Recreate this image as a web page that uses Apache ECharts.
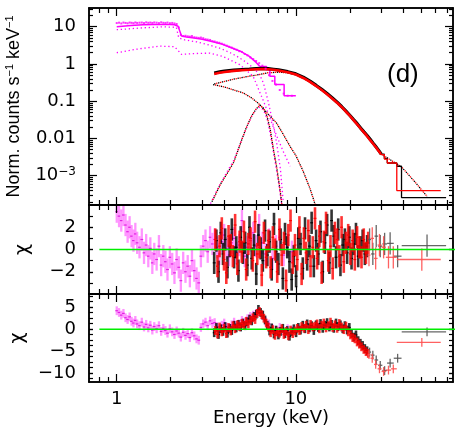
<!DOCTYPE html>
<html>
<head>
<meta charset="utf-8">
<title>Spectrum (d)</title>
<script src="https://cdn.jsdelivr.net/npm/echarts@6.0.0/dist/echarts.min.js"></script>
<style>
  html, body { margin: 0; padding: 0; background: #fff; }
  #chart { width: 463px; height: 436px; }
</style>
</head>
<body>
<div id="chart"></div>
<script>
// ---------------- ticks / labels ----------------
var X_MIN = 0.7, X_MAX = 75.4;
var xMinorTicks = [0.8, 0.9, 2, 3, 4, 5, 6, 7, 8, 9, 20, 30, 40, 50, 60, 70];
var xMajorTicks = [1, 10];
var xLabelVals = [1, 10];

var yTopMinorTicks = [2e-4, 3e-4, 4e-4, 5e-4, 6e-4, 7e-4, 8e-4, 9e-4,
    2e-3, 3e-3, 4e-3, 5e-3, 6e-3, 7e-3, 8e-3, 9e-3,
    0.02, 0.03, 0.04, 0.05, 0.06, 0.07, 0.08, 0.09,
    0.2, 0.3, 0.4, 0.5, 0.6, 0.7, 0.8, 0.9,
    2, 3, 4, 5, 6, 7, 8, 9, 20, 30];
var yTopMajorTicks = [0.001, 0.01, 0.1, 1, 10];
var yMidTicks = [-3, -2, -1, 0, 1, 2, 3];
var yMidLabels = [-2, 0, 2];
var yBotTicks = [-11.25, -10, -8.75, -7.5, -6.25, -5, -3.75, -2.5, -1.25, 0, 1.25, 2.5, 3.75, 5, 6.25, 7.5];
var yBotLabels = [-10, -5, 0, 5];

// ---------------- top panel: magenta (low energy instrument) ----------------
var pinkModelE = [1.0, 1.2, 1.4, 1.6, 1.8, 2.0, 2.1, 2.2, 2.3, 2.45, 2.7, 3.0, 3.4, 3.8, 4.3, 4.9, 5.5, 6.0, 6.29];
var pinkModelV = [10.0, 10.8, 11.2, 11.4, 11.5, 11.5, 11.3, 10.3, 5.6, 5.3, 5.0, 4.6, 4.0, 3.5, 2.8, 2.2, 1.6, 1.1, 0.86];
var pinkStepE = [6.29, 6.86, 7.16, 7.63, 8.6, 10.0];
var pinkStepV = [0.86, 0.70, 0.47, 0.28, 0.14, 0.14];

var pE = [1.00, 1.03, 1.06, 1.09, 1.12, 1.15, 1.18, 1.21, 1.24, 1.27,
    1.30, 1.34, 1.38, 1.42, 1.46, 1.50, 1.54, 1.58, 1.62, 1.67,
    1.72, 1.77, 1.82, 1.87, 1.92, 1.98, 2.04, 2.10, 2.16, 2.22,
    2.28, 2.35, 2.42, 2.49, 2.56, 2.63, 2.71, 2.79, 2.87, 2.95,
    3.04, 3.13, 3.22, 3.32, 3.42, 3.52, 3.63, 3.74, 3.86, 3.98,
    4.11, 4.24, 4.38, 4.52, 4.67, 4.83, 5.00, 5.18, 5.37, 5.57,
    5.78, 6.00, 6.24, 6.50, 6.78, 7.08, 7.40, 7.75, 8.13, 8.55,
    9.00, 9.50];
var pinkData = [12.5, 12.8, 12.2, 12.9, 12.6, 12.3, 12.9, 12.7, 12.4, 13.0,
    12.6, 12.8, 12.9, 12.5, 13.1, 12.7, 12.9, 12.6, 13.0, 12.8,
    12.5, 13.1, 12.7, 12.6, 12.9, 12.4, 12.6, 12.2, 11.8, 9.5,
    6.0, 5.6, 5.7, 5.5, 5.4, 5.6, 5.2, 5.1, 5.0, 5.1,
    4.9, 4.6, 4.5, 4.4, 4.1, 4.0, 3.8, 3.7, 3.5, 3.3,
    3.1, 2.9, 2.75, 2.55, 2.4, 2.2, 2.1, 1.85, 1.7, 1.5,
    1.35, 1.2, 1.05, 0.9, 0.75, 0.5, 0.35, 0.28, 0.2, 0.16,
    0.14, 0.14];

// model components (dotted)
var pinkAE = [1.0, 1.4, 1.8, 2.15, 2.22, 2.4, 2.8, 3.3, 3.8, 4.3, 4.8, 5.3, 5.8, 6.3, 6.6, 7.0, 7.4, 7.8, 8.2, 8.5];
var pinkAV = [8.3, 9.3, 9.9, 9.6, 5.0, 4.4, 3.9, 3.2, 2.6, 2.0, 1.5, 1.1, 0.78, 0.5, 0.3, 0.1, 0.03, 0.008, 0.0015, 0.0002];
var pinkBE = [1.0, 1.3, 1.74, 2.1, 2.2, 2.3, 2.7, 3.3, 3.9, 4.86, 5.77, 6.0, 6.6, 7.1, 7.8, 8.5, 9.3];
var pinkBV = [2.0, 2.5, 3.0, 2.9, 2.3, 1.8, 1.9, 1.95, 1.6, 0.96, 0.47, 0.3, 0.1, 0.04, 0.012, 0.0045, 0.0018];
var pinkGaussE = [3.3, 3.7, 4.1, 4.5, 4.9, 5.3, 5.7, 6.0, 6.3, 6.6, 6.9, 7.2, 7.5, 7.8, 8.1, 8.4];
var pinkGaussV = [1.6e-4, 5e-4, 1.2e-3, 2.6e-3, 7.5e-3, 0.019, 0.042, 0.06, 0.07, 0.058, 0.034, 0.013, 0.0042, 0.0014, 4.5e-4, 1.3e-4];

// ---------------- top panel: black / red (hard X-ray modules) ----------------
var nuTopE = [3.5, 3.75, 4, 4.5, 5, 5.5, 6, 6.5, 7, 7.5, 8, 9, 10, 11, 12, 13, 14, 15, 16, 17,
    18, 19, 20, 21, 22, 23, 24, 25, 26, 27, 28, 29, 30];
var blackTop = [0.57, 0.61, 0.64, 0.68, 0.71, 0.73, 0.75, 0.76, 0.75, 0.72,
    0.69, 0.62, 0.54, 0.44, 0.345, 0.265, 0.205, 0.158, 0.122, 0.094,
    0.072, 0.055, 0.042, 0.032, 0.025, 0.019, 0.015, 0.012, 0.0095, 0.0075,
    0.006, 0.0048, 0.0038];
var redTop = [0.54, 0.58, 0.61, 0.65, 0.68, 0.70, 0.72, 0.73, 0.72, 0.70,
    0.67, 0.60, 0.52, 0.42, 0.33, 0.255, 0.197, 0.152, 0.117, 0.091,
    0.07, 0.053, 0.041, 0.031, 0.024, 0.0185, 0.0145, 0.0115, 0.009, 0.0072,
    0.0058, 0.0046, 0.0037];
var blackTailE = [30, 31.2, 32.4, 36.6, 38.9, 69];
var blackTailV = [0.0038, 0.0029, 0.0022, 0.0018, 0.00026, 0.00026];
var redTailE = [30, 31.2, 32.4, 36.6, 64.4];
var redTailV = [0.0037, 0.0028, 0.0022, 0.0004, 0.0004];

var nuCompE = [3.5, 4, 4.5, 5, 5.5, 6, 7, 8, 9, 10, 11, 12, 14, 16, 18, 20, 23, 26, 30, 34, 39, 46, 54];
var nuCompV = [0.29, 0.34, 0.39, 0.43, 0.47, 0.50, 0.58, 0.60, 0.58, 0.53, 0.43, 0.34, 0.205, 0.122, 0.072,
    0.042, 0.019, 0.0095, 0.0038, 0.0026, 0.0017, 0.0007, 0.00028];
var nuDiskE = [3.45, 4.0, 4.5, 5.08, 5.7, 6.29, 7.0, 7.8, 8.5, 9.27, 10.0, 11.0, 12.0, 12.6, 13.0];
var nuDiskV = [0.28, 0.24, 0.2, 0.167, 0.12, 0.081, 0.045, 0.026, 0.013, 0.0062, 0.0035, 0.0013, 0.00045, 0.00022, 0.00013];
var nuGaussE = [3.4, 3.8, 4.2, 4.5, 5.0, 5.3, 5.66, 6.0, 6.3, 6.6, 6.9, 7.2, 7.5, 7.8, 8.0, 8.2, 8.4];
var nuGaussV = [2e-4, 6e-4, 1.3e-3, 2.3e-3, 9.5e-3, 0.02, 0.04, 0.062, 0.078, 0.065, 0.04, 0.017, 0.005, 0.0018, 8e-4, 3.5e-4, 1.4e-4];

// ---------------- residuals (chi), error bars are +-1 ----------------
var CHI_ERR = 1;
var pinkMid = [3.4, 3.0, 2.6, 3.1, 2.2, 1.6, 2.0, 1.2, 0.8, 1.4,
    0.6, 0.2, 0.9, -0.3, 0.4, -0.6, 0.1, -1.2, -0.4, -0.9,
    0.3, -1.4, -0.6, -1.1, -1.8, -0.7, -1.3, -2.1, -0.9, -1.6,
    -2.8, -1.2, -2.0, -1.5, -2.4, -1.0, -1.9, -2.6, -3.0, -0.6,
    0.3, 0.8, -0.2, 1.1, 0.5, 0.9, 0.2, -0.4, 0.7, 1.3,
    0.1, -0.5, 0.6, 1.0, -0.3, 0.4, 2.6, -0.6, 0.2, 0.8,
    1.5, 0.3, 2.2, 0.6, -0.4, 0.9, -0.8, 0.3, 1.1, -0.5,
    0.4, -0.2];
var pinkBot = [4.2, 3.8, 3.2, 3.6, 2.6, 2.2, 2.8, 1.8, 1.4, 2.0,
    1.2, 0.8, 1.6, 0.5, 1.1, 0.3, 0.9, -0.2, 0.6, 0.1,
    0.8, -0.5, 0.2, -0.3, -0.9, 0.1, -0.6, -1.2, -0.4, -0.9,
    -1.8, -0.7, -1.4, -1.0, -1.9, -0.8, -1.5, -2.2, -2.5, 0.4,
    1.2, 1.6, 0.8, 1.9, 1.3, 1.5, 0.6, 0.2, 0.9, 1.4,
    0.5, 0.1, 1.0, 1.6, 0.8, 1.2, 2.0, 1.6, 2.4, 2.9,
    3.2, 3.6, 4.0, 3.1, 1.8, 1.2, 0.2, -0.3, 0.4, -0.6,
    0.1, -0.2];

var bE = [3.50, 3.60, 3.70, 3.81, 3.92, 4.03, 4.15, 4.27, 4.39, 4.52,
    4.65, 4.78, 4.92, 5.06, 5.21, 5.36, 5.51, 5.67, 5.84, 6.01,
    6.18, 6.36, 6.54, 6.73, 6.93, 7.13, 7.33, 7.55, 7.76, 7.99,
    8.22, 8.46, 8.70, 8.95, 9.21, 9.48, 9.75, 10.03, 10.32, 10.62,
    10.93, 11.25, 11.57, 11.91, 12.25, 12.60, 12.97, 13.34, 13.73, 14.13,
    14.53, 14.95, 15.39, 15.83, 16.29, 16.76, 17.24, 17.74, 18.26, 18.78,
    19.33, 19.89, 20.46, 21.05, 21.66, 22.29, 22.93, 23.60, 24.28, 24.98];
var bMid = [-1.2, 0.8, -2.0, 1.5, -0.4, 0.9, -1.6, 0.3, 1.8, -0.7,
    0.2, -1.9, 1.1, -0.3, 0.6, -1.4, 2.0, -0.8, 0.4, -2.2,
    1.3, 0.1, -1.0, 1.7, -0.5, 0.7, -1.8, 2.3, -0.2, -1.3,
    0.9, -2.6, 1.4, 0.2, -1.1, -2.7, -0.6, -2.4, 1.0, 0.5,
    -1.7, 1.9, -0.9, 0.3, 2.4, -1.5, 0.8, -0.4, 1.6, -2.0,
    0.6, 2.2, -1.2, 2.6, 1.2, -0.7, 1.8, -1.4, 0.4, 0.9,
    -0.3, 1.1, -0.8, 0.5, 1.4, -0.6, 0.2, 0.8, -0.4, 0.3];
var bBot = [-0.8, 0.4, -1.2, 0.1, -0.5, 0.6, -0.9, 0.2, -0.3, 0.9,
    0.3, 1.1, 0.5, 1.4, 0.8, 1.7, 2.3, 1.9, 2.9, 3.4,
    4.5, 3.8, 3.2, 2.1, 0.9, -0.4, 0.3, -1.1, -0.2, -1.3,
    -0.5, 0.2, -1.0, -0.3, -1.6, -0.6, 0.1, -0.8, 0.4, -0.2,
    0.9, 0.1, 1.2, 0.3, 0.8, -0.3, 1.0, 0.4, 1.3, 0.2,
    0.9, 1.5, 0.5, 1.1, 0.2, 1.4, 0.6, 1.0, 0.1, 0.8,
    -0.2, 0.4, -1.0, -1.8, -1.3, -2.6, -3.2, -3.7, -4.4, -4.9];

var rE = [3.55, 3.65, 3.75, 3.86, 3.97, 4.09, 4.21, 4.33, 4.45, 4.58,
    4.71, 4.85, 4.99, 5.13, 5.28, 5.43, 5.59, 5.75, 5.92, 6.09,
    6.27, 6.45, 6.63, 6.83, 7.03, 7.23, 7.44, 7.65, 7.87, 8.10,
    8.34, 8.58, 8.82, 9.08, 9.34, 9.61, 9.89, 10.18, 10.47, 10.77,
    11.09, 11.41, 11.74, 12.08, 12.43, 12.79, 13.15, 13.53, 13.93, 14.33,
    14.74, 15.17, 15.61, 16.06, 16.52, 17.00, 17.49, 18.00, 18.52, 19.05,
    19.60, 20.17, 20.75, 21.35, 21.97, 22.61, 23.26, 23.94, 24.63, 25.34];
var rMid = [0.9, -1.5, 0.3, 1.9, -0.9, -2.1, 1.2, 0.4, -0.6, 2.2,
    -1.3, 0.7, -0.2, 1.6, -1.8, 0.5, 1.0, -1.0, 2.5, -0.4,
    0.2, -2.3, 1.5, -0.7, 0.8, -1.6, 1.1, 0.0, -2.0, 1.8,
    -0.5, 0.6, -2.8, 1.3, 2.6, -1.2, 0.4, -0.9, 2.0, -2.2,
    1.0, -0.3, 1.7, -1.5, 0.2, 2.8, -0.8, 1.2, -2.1, 0.7,
    2.4, -1.0, 0.3, -1.7, 1.5, 0.9, -0.6, 2.0, -1.1, 0.6,
    1.3, -0.4, 0.8, -0.9, 1.1, 0.2, -0.7, 0.9, -0.3, 0.6];
var rBot = [-0.3, -1.1, 0.5, -0.6, 0.2, -1.0, 0.4, -0.4, 0.8, 0.1,
    1.0, 0.6, 1.3, 0.9, 1.8, 1.2, 2.0, 2.6, 2.2, 3.6,
    4.0, 3.3, 2.5, 1.4, 0.5, -0.8, -0.1, -1.4, -0.6, -0.9,
    0.1, -1.2, -0.5, -1.5, -0.2, -1.0, -0.4, 0.2, -0.3, 0.6,
    0.2, 0.9, -0.1, 1.1, 0.5, 0.7, 1.2, 0.1, 0.9, 1.4,
    0.3, 0.8, 1.6, 0.4, 1.0, 0.2, 1.3, 0.5, -0.1, 0.7,
    -0.6, -1.3, -1.9, -2.2, -2.9, -3.4, -4.0, -4.6, -5.1, -5.5];

// wide high-energy bins (centre, low edge, high edge)
var bSpE = [25.8, 26.9, 28.1, 29.6, 31.3, 33.6, 37.0, 54.0];
var bSpLo = [25.3, 26.3, 27.5, 28.8, 30.4, 32.3, 35.2, 39.0];
var bSpHi = [26.3, 27.5, 28.8, 30.4, 32.3, 35.2, 38.9, 69.0];
var bSpMid = [0.9, -0.4, 1.2, 0.3, 0.5, 0.55, -0.6, 0.35];
var bSpBot = [-5.2, -5.9, -7.0, -8.2, -9.4, -7.7, -6.6, -0.6];
var rSpE = [25.6, 26.7, 27.9, 29.3, 30.9, 32.9, 35.0, 50.5];
var rSpLo = [25.1, 26.1, 27.3, 28.6, 30.1, 31.8, 34.0, 36.6];
var rSpHi = [26.1, 27.3, 28.6, 30.1, 31.8, 34.0, 36.6, 64.4];
var rSpMid = [-0.5, 1.0, -0.8, 0.4, 0.2, -0.7, -0.7, -0.9];
var rSpBot = [-5.8, -6.6, -8.0, -9.0, -9.6, -9.3, -9.0, -3.0];

var zeroE = [0.8, 80];
var zeroV = [0, 0];

// ---------------- helpers ----------------
var FONT = 'DejaVu Sans';
var BLACK_LINE = { color: '#000', width: 1.5 };

function pairs(xs, ys) {
    var out = [];
    for (var i = 0; i < xs.length; i++) out.push([xs[i], ys[i]]);
    return out;
}
function quads(xs, ys, lo, hi) {
    var out = [];
    for (var i = 0; i < xs.length; i++) out.push([xs[i], ys[i], lo[i], hi[i]]);
    return out;
}
function merge(a, b) {
    var o = {};
    for (var k in a) o[k] = a[k];
    for (var k2 in b) o[k2] = b[k2];
    return o;
}

// 4 x axes per grid: bottom minor, bottom major, top minor, top major
function makeXAxes(g, withLabels) {
    var base = {
        type: 'log', logBase: 10, gridIndex: g, min: X_MIN, max: X_MAX,
        splitLine: { show: false },
        axisLine: { onZero: false, lineStyle: BLACK_LINE },
        axisLabel: { show: false }, z: 5
    };
    var minorTick = { inside: true, length: 5, customValues: xMinorTicks, lineStyle: { color: '#000', width: 1.2 } };
    var majorTick = { inside: true, length: 8, customValues: xMajorTicks, lineStyle: { color: '#000', width: 1.2 } };
    var bottomMajor = merge(base, { position: 'bottom', axisTick: majorTick });
    if (withLabels) {
        bottomMajor.axisLabel = {
            show: true, customValues: xLabelVals, margin: 8,
            color: '#000', fontFamily: FONT, fontSize: 18
        };
        bottomMajor.name = 'Energy (keV)';
        bottomMajor.nameLocation = 'middle';
        bottomMajor.nameGap = 26;
        bottomMajor.nameTextStyle = { color: '#000', fontFamily: FONT, fontSize: 18 };
    }
    return [
        merge(base, { position: 'bottom', axisTick: minorTick }),
        bottomMajor,
        merge(base, { position: 'top', axisTick: minorTick }),
        merge(base, { position: 'top', axisTick: majorTick })
    ];
}

// 4 y axes per grid: left minor, left major (labels), right minor, right major
function makeYAxes(g, c) {
    var base = {
        type: c.type, gridIndex: g, min: c.min, max: c.max,
        splitLine: { show: false },
        axisLine: { onZero: false, lineStyle: BLACK_LINE },
        axisLabel: { show: false }, z: 5
    };
    if (c.type === 'log') base.logBase = 10;
    var minorTick = { inside: true, length: c.minorLen, customValues: c.minor, lineStyle: { color: '#000', width: 1.2 } };
    var majorTick = { inside: true, length: c.majorLen, customValues: c.major, lineStyle: { color: '#000', width: 1.2 } };
    var leftMajor = merge(base, {
        position: 'left', axisTick: majorTick,
        axisLabel: {
            show: true, customValues: c.labels, formatter: c.fmt, margin: 13,
            color: '#000', fontFamily: FONT, fontSize: 18, lineHeight: 20,
            rich: { sup: { fontFamily: FONT, fontSize: 12, verticalAlign: 'top', lineHeight: 13, color: '#000' } }
        },
        name: c.name, nameLocation: 'middle', nameRotate: 90, nameGap: c.nameGap,
        nameTextStyle: c.nameStyle
    });
    return [
        merge(base, { position: 'left', axisTick: minorTick }),
        leftMajor,
        merge(base, { position: 'right', axisTick: minorTick }),
        merge(base, { position: 'right', axisTick: majorTick })
    ];
}

function minusFmt(v) { return String(v).replace('-', '\u2212'); }
function logFmt(v) {
    var p = Math.round(Math.log(v) / Math.LN10);
    var names = { '1': '10', '0': '1', '-1': '0.1', '-2': '0.01' };
    if (names[p] !== undefined) return names[p];
    return '10{sup|\u2212' + (-p) + '}';
}

function dotted(g, xs, ys, color, offset) {
    return {
        type: 'line', xAxisIndex: 4 * g, yAxisIndex: 4 * g, data: pairs(xs, ys),
        symbol: 'none', silent: true, z: 2,
        lineStyle: { color: color, width: 1.3, type: [1.3, 2.7], dashOffset: offset || 0 }
    };
}
function solid(g, xs, ys, color, width, step) {
    return {
        type: 'line', xAxisIndex: 4 * g, yAxisIndex: 4 * g, data: pairs(xs, ys),
        symbol: 'none', silent: true, step: step || false, z: 3,
        lineStyle: { color: color, width: width }
    };
}
function errBars(g, xs, ys, color, midColor, opacity, width) {
    return {
        type: 'custom', xAxisIndex: 4 * g, yAxisIndex: 4 * g, data: pairs(xs, ys),
        clip: true, silent: true, z: 3,
        renderItem: function (params, api) {
            var e = api.value(0), c = api.value(1);
            var p1 = api.coord([e, c + CHI_ERR]);
            var p2 = api.coord([e, c - CHI_ERR]);
            var pc = api.coord([e, c]);
            return {
                type: 'group', children: [
                    { type: 'line', shape: { x1: p1[0], y1: p1[1], x2: p2[0], y2: p2[1] },
                      style: { stroke: color, lineWidth: width, opacity: opacity } },
                    { type: 'line', shape: { x1: pc[0] - 1.4, y1: pc[1], x2: pc[0] + 1.4, y2: pc[1] },
                      style: { stroke: midColor, lineWidth: 1.2 } }
                ]
            };
        }
    };
}
function crosses(g, xs, ys, lo, hi, color, opacity) {
    return {
        type: 'custom', xAxisIndex: 4 * g, yAxisIndex: 4 * g, data: quads(xs, ys, lo, hi),
        clip: true, silent: true, z: 3,
        renderItem: function (params, api) {
            var e = api.value(0), c = api.value(1);
            var p1 = api.coord([e, c + CHI_ERR]);
            var p2 = api.coord([e, c - CHI_ERR]);
            var pl = api.coord([api.value(2), c]);
            var ph = api.coord([api.value(3), c]);
            return {
                type: 'group', children: [
                    { type: 'line', shape: { x1: p1[0], y1: p1[1], x2: p2[0], y2: p2[1] },
                      style: { stroke: color, lineWidth: 1.3, opacity: opacity } },
                    { type: 'line', shape: { x1: pl[0], y1: pl[1], x2: ph[0], y2: ph[1] },
                      style: { stroke: color, lineWidth: 1.3, opacity: opacity } }
                ]
            };
        }
    };
}

// ---------------- chart ----------------
var chart = echarts.init(document.getElementById('chart'), null, { renderer: 'canvas' });

var PINK = '#ff00ff';
var PINK_BAR = '#ff70ff';
var RED = '#ff0000';

var series = [
    // top panel components
    dotted(0, pinkAE, pinkAV, PINK),
    dotted(0, pinkBE, pinkBV, PINK),
    dotted(0, pinkGaussE, pinkGaussV, PINK, 2),
    dotted(0, nuCompE, nuCompV, '#000'),
    dotted(0, nuCompE, nuCompV, RED, 2),
    dotted(0, nuDiskE, nuDiskV, '#000'),
    dotted(0, nuDiskE, nuDiskV, RED, 2),
    dotted(0, nuGaussE, nuGaussV, '#000'),
    dotted(0, nuGaussE, nuGaussV, RED, 2),
    // top panel data / models
    solid(0, pinkModelE, pinkModelV, PINK, 1.5),
    solid(0, pinkStepE, pinkStepV, PINK, 1.5, 'end'),
    {
        type: 'scatter', xAxisIndex: 0, yAxisIndex: 0, data: pairs(pE, pinkData),
        symbol: 'rect', symbolSize: [2, 2], silent: true, z: 3,
        itemStyle: { color: PINK }
    },
    solid(0, nuTopE, blackTop, '#000', 3.2),
    solid(0, nuTopE, redTop, RED, 2.6),
    solid(0, blackTailE, blackTailV, '#000', 1.3, 'end'),
    solid(0, redTailE, redTailV, RED, 1.3, 'end'),

    // middle residual panel
    errBars(1, pE, pinkMid, PINK_BAR, '#e020e0', 0.75, 2.3),
    errBars(1, bE, bMid, '#000', '#000', 0.8, 2.6),
    errBars(1, rE, rMid, RED, RED, 0.8, 2.6),
    crosses(1, bSpE, bSpMid, bSpLo, bSpHi, '#555', 0.9),
    crosses(1, rSpE, rSpMid, rSpLo, rSpHi, '#ff5050', 0.9),
    merge(solid(1, zeroE, zeroV, '#00ee00', 1.5), { z: 6 }),

    // bottom residual panel
    errBars(2, pE, pinkBot, PINK_BAR, '#e020e0', 0.75, 2.3),
    errBars(2, bE, bBot, '#000', '#000', 0.8, 2.6),
    errBars(2, rE, rBot, RED, RED, 0.8, 2.6),
    crosses(2, bSpE, bSpBot, bSpLo, bSpHi, '#555', 0.9),
    crosses(2, rSpE, rSpBot, rSpLo, rSpHi, '#ff5050', 0.9),
    merge(solid(2, zeroE, zeroV, '#00ee00', 1.5), { z: 6 })
];

var option = {
    animation: false,
    backgroundColor: '#fff',
    textStyle: { fontFamily: FONT },
    grid: [
        { left: 89, right: 10, top: 8, height: 197, containLabel: false, outerBoundsMode: 'none' },
        { left: 89, right: 10, top: 205, height: 89, containLabel: false, outerBoundsMode: 'none' },
        { left: 89, right: 10, top: 294, height: 88, containLabel: false, outerBoundsMode: 'none' }
    ],
    xAxis: [].concat(makeXAxes(0, false), makeXAxes(1, false), makeXAxes(2, true)),
    yAxis: [].concat(
        makeYAxes(0, {
            type: 'log', min: 1.64e-4, max: 31.7,
            minor: yTopMinorTicks, major: yTopMajorTicks, labels: yTopMajorTicks,
            minorLen: 4, majorLen: 8, fmt: logFmt,
            name: 'Norm. counts s{sup|\u22121} keV{sup|\u22121}', nameGap: 60,
            nameStyle: {
                color: '#000', fontFamily: 'Liberation Sans', fontSize: 18, lineHeight: 20,
                rich: { sup: { fontFamily: 'Liberation Sans', fontSize: 11, verticalAlign: 'top', lineHeight: 12, color: '#000' } }
            }
        }),
        makeYAxes(1, {
            type: 'value', min: -4, max: 4,
            minor: yMidTicks, major: yMidLabels, labels: yMidLabels,
            minorLen: 4, majorLen: 4, fmt: minusFmt,
            name: '\u03c7', nameGap: 56,
            nameStyle: { color: '#000', fontFamily: FONT, fontSize: 19 }
        }),
        makeYAxes(2, {
            type: 'value', min: -12, max: 8,
            minor: yBotTicks, major: yBotLabels, labels: yBotLabels,
            minorLen: 4, majorLen: 4, fmt: minusFmt,
            name: '\u03c7', nameGap: 56,
            nameStyle: { color: '#000', fontFamily: FONT, fontSize: 19 }
        })
    ),
    graphic: [{
        type: 'text', left: 387, top: 62,
        style: { text: '(d)', fill: '#000', font: '26px "Liberation Sans"' }
    }],
    series: series
};

chart.setOption(option);
</script>
</body>
</html>
